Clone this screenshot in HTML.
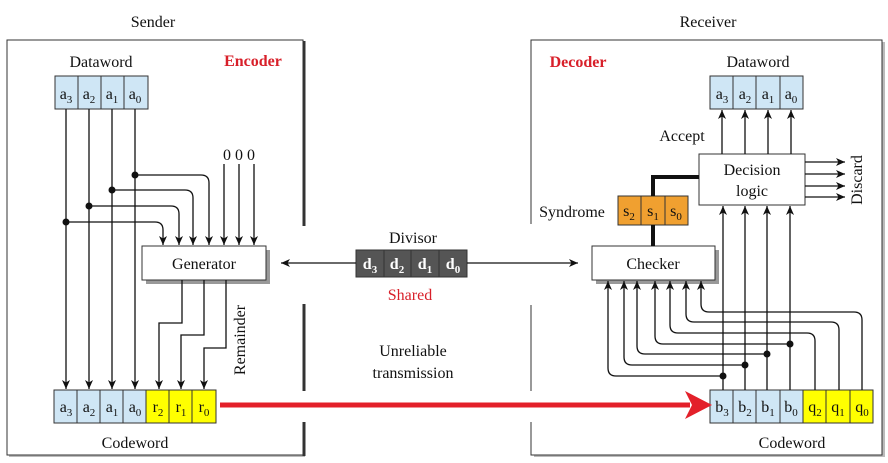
<!DOCTYPE html>
<html><head><meta charset="utf-8"><style>
html,body{margin:0;padding:0;background:#fff;}
svg{display:block;font-family:"Liberation Serif",serif;}
</style></head><body>
<svg width="888" height="463" viewBox="0 0 888 463" xmlns="http://www.w3.org/2000/svg">
<defs>
<marker id="ah" markerWidth="10" markerHeight="10" refX="9" refY="5" orient="auto" markerUnits="userSpaceOnUse">
<path d="M0,1 L9,5 L0,9 L2.5,5 Z" fill="#111"/></marker>
</defs>
<g font-size="16" text-anchor="middle" fill="#111">
<text x="153" y="27">Sender</text>
<text x="708" y="27">Receiver</text>
</g>
<!-- Left panel -->
<rect x="9" y="42" width="296" height="415" fill="#bbb"/>
<rect x="7" y="40" width="296" height="415" fill="#fff" stroke="#333" stroke-width="1"/>
<rect x="300" y="226" width="8" height="78" fill="#fff"/>
<rect x="300" y="391" width="8" height="31" fill="#fff"/>
<line x1="304" y1="41" x2="304" y2="226" stroke="#333" stroke-width="3"/>
<line x1="304" y1="304" x2="304" y2="391" stroke="#333" stroke-width="3"/>
<line x1="304" y1="422" x2="304" y2="456" stroke="#333" stroke-width="3"/>
<!-- Right panel -->
<rect x="534" y="42" width="351" height="415" fill="#bbb"/>
<rect x="531" y="40" width="351" height="415" fill="#fff" stroke="#333" stroke-width="1"/>
<rect x="527" y="224" width="8" height="81" fill="#fff"/>
<rect x="527" y="391" width="8" height="31" fill="#fff"/>

<g font-size="16" fill="#111" text-anchor="middle">
<text x="101" y="67">Dataword</text>
<text x="135" y="448">Codeword</text>
<text x="758" y="67">Dataword</text>
<text x="792" y="448">Codeword</text>
<text x="413" y="243">Divisor</text>
<text x="413" y="356">Unreliable</text>
<text x="413" y="378">transmission</text>
<text x="239" y="160">0 0 0</text>
<text x="682" y="141">Accept</text>
<text x="572" y="217">Syndrome</text>
</g>
<text x="253" y="66" font-size="16" font-weight="bold" fill="#d8202a" text-anchor="middle">Encoder</text>
<text x="578" y="67" font-size="16" font-weight="bold" fill="#d8202a" text-anchor="middle">Decoder</text>
<text x="410" y="300" font-size="16" fill="#d8202a" text-anchor="middle">Shared</text>
<text transform="translate(245,340) rotate(-90)" font-size="16" fill="#111" text-anchor="middle">Remainder</text>
<text transform="translate(862,180) rotate(-90)" font-size="16" fill="#111" text-anchor="middle">Discard</text>

<!-- Sender dataword -->
<g stroke="#333" stroke-width="1">
<rect x="55" y="76" width="93" height="33" fill="#cfe6f5"/>
<line x1="78" y1="76" x2="78" y2="109"/><line x1="101" y1="76" x2="101" y2="109"/><line x1="124" y1="76" x2="124" y2="109"/>
<!-- sender codeword -->
<rect x="54" y="390" width="92" height="33" fill="#cfe6f5"/>
<rect x="146" y="390" width="70" height="33" fill="#ffff00"/>
<line x1="77" y1="390" x2="77" y2="423"/><line x1="100" y1="390" x2="100" y2="423"/><line x1="123" y1="390" x2="123" y2="423"/><line x1="169" y1="390" x2="169" y2="423"/><line x1="192" y1="390" x2="192" y2="423"/>
<!-- receiver dataword -->
<rect x="710" y="76" width="93" height="33" fill="#cfe6f5"/>
<line x1="733" y1="76" x2="733" y2="109"/><line x1="756" y1="76" x2="756" y2="109"/><line x1="780" y1="76" x2="780" y2="109"/>
<!-- receiver codeword -->
<rect x="710" y="390" width="93" height="33" fill="#cfe6f5"/>
<rect x="803" y="390" width="70" height="33" fill="#ffff00"/>
<line x1="733" y1="390" x2="733" y2="423"/><line x1="756" y1="390" x2="756" y2="423"/><line x1="780" y1="390" x2="780" y2="423"/><line x1="826" y1="390" x2="826" y2="423"/><line x1="850" y1="390" x2="850" y2="423"/>
<!-- syndrome -->
<rect x="618" y="196" width="70" height="29" fill="#f0a030"/>
<line x1="641" y1="196" x2="641" y2="225"/><line x1="665" y1="196" x2="665" y2="225"/>
<!-- divisor -->
<rect x="356" y="250" width="111" height="27" fill="#555"/>
<line x1="384" y1="250" x2="384" y2="277"/><line x1="411" y1="250" x2="411" y2="277"/><line x1="439" y1="250" x2="439" y2="277"/>
</g>
<!-- Boxes with shadow -->
<rect x="146" y="250" width="124" height="34" fill="#999"/>
<rect x="142" y="246" width="124" height="34" fill="#fff" stroke="#333"/>
<text x="204" y="269" font-size="16" text-anchor="middle" fill="#111">Generator</text>
<rect x="596" y="250" width="123" height="34" fill="#999"/>
<rect x="592" y="246" width="123" height="34" fill="#fff" stroke="#333"/>
<text x="653" y="269" font-size="16" text-anchor="middle" fill="#111">Checker</text>
<rect x="699" y="154" width="106" height="51" fill="#fff" stroke="#333"/>
<text x="752" y="175" font-size="16" text-anchor="middle" fill="#111">Decision</text>
<text x="752" y="196" font-size="16" text-anchor="middle" fill="#111">logic</text>

<!-- cell labels -->
<g font-size="16" fill="#111" text-anchor="middle">
<text x="66" y="99">a<tspan font-size="11" dy="4">3</tspan></text>
<text x="89" y="99">a<tspan font-size="11" dy="4">2</tspan></text>
<text x="112" y="99">a<tspan font-size="11" dy="4">1</tspan></text>
<text x="135" y="99">a<tspan font-size="11" dy="4">0</tspan></text>
<text x="66" y="412">a<tspan font-size="11" dy="4">3</tspan></text>
<text x="89" y="412">a<tspan font-size="11" dy="4">2</tspan></text>
<text x="112" y="412">a<tspan font-size="11" dy="4">1</tspan></text>
<text x="135" y="412">a<tspan font-size="11" dy="4">0</tspan></text>
<text x="158" y="412">r<tspan font-size="11" dy="4">2</tspan></text>
<text x="181" y="412">r<tspan font-size="11" dy="4">1</tspan></text>
<text x="204" y="412">r<tspan font-size="11" dy="4">0</tspan></text>
<text x="722" y="99">a<tspan font-size="11" dy="4">3</tspan></text>
<text x="745" y="99">a<tspan font-size="11" dy="4">2</tspan></text>
<text x="768" y="99">a<tspan font-size="11" dy="4">1</tspan></text>
<text x="791" y="99">a<tspan font-size="11" dy="4">0</tspan></text>
<text x="722" y="412">b<tspan font-size="11" dy="4">3</tspan></text>
<text x="745" y="412">b<tspan font-size="11" dy="4">2</tspan></text>
<text x="768" y="412">b<tspan font-size="11" dy="4">1</tspan></text>
<text x="791" y="412">b<tspan font-size="11" dy="4">0</tspan></text>
<text x="815" y="412">q<tspan font-size="11" dy="4">2</tspan></text>
<text x="838" y="412">q<tspan font-size="11" dy="4">1</tspan></text>
<text x="862" y="412">q<tspan font-size="11" dy="4">0</tspan></text>
<text x="629" y="216">s<tspan font-size="11" dy="4">2</tspan></text>
<text x="653" y="216">s<tspan font-size="11" dy="4">1</tspan></text>
<text x="676" y="216">s<tspan font-size="11" dy="4">0</tspan></text>
</g>
<g font-size="16" fill="#fff" font-weight="bold" text-anchor="middle">
<text x="370" y="269">d<tspan font-size="11" dy="4">3</tspan></text>
<text x="397" y="269">d<tspan font-size="11" dy="4">2</tspan></text>
<text x="425" y="269">d<tspan font-size="11" dy="4">1</tspan></text>
<text x="453" y="269">d<tspan font-size="11" dy="4">0</tspan></text>
</g>

<g stroke="#111" stroke-width="1.3" fill="none">
<!-- sender verticals -->
<line x1="66" y1="109" x2="66" y2="389" marker-end="url(#ah)"/>
<line x1="89" y1="109" x2="89" y2="389" marker-end="url(#ah)"/>
<line x1="112" y1="109" x2="112" y2="389" marker-end="url(#ah)"/>
<line x1="135" y1="109" x2="135" y2="389" marker-end="url(#ah)"/>
<path d="M135,175 H201 Q209,175 209,183 V245" marker-end="url(#ah)"/>
<path d="M112,190 H185 Q193,190 193,198 V245" marker-end="url(#ah)"/>
<path d="M89,206 H171 Q179,206 179,214 V245" marker-end="url(#ah)"/>
<path d="M66,222 H155 Q163,222 163,230 V245" marker-end="url(#ah)"/>
<line x1="224" y1="164" x2="224" y2="245" marker-end="url(#ah)"/>
<line x1="239" y1="164" x2="239" y2="245" marker-end="url(#ah)"/>
<line x1="254" y1="164" x2="254" y2="245" marker-end="url(#ah)"/>
<path d="M182,280 V323 H159 V389" marker-end="url(#ah)"/>
<path d="M204,280 V335 H181 V389" marker-end="url(#ah)"/>
<path d="M226,280 V348 H204 V389" marker-end="url(#ah)"/>
<!-- divisor arrows -->
<line x1="356" y1="263" x2="281" y2="263" marker-end="url(#ah)"/>
<line x1="467" y1="263" x2="578" y2="263" marker-end="url(#ah)"/>
<!-- receiver -->
<line x1="722" y1="154" x2="722" y2="110" marker-end="url(#ah)"/>
<line x1="745" y1="154" x2="745" y2="110" marker-end="url(#ah)"/>
<line x1="768" y1="154" x2="768" y2="110" marker-end="url(#ah)"/>
<line x1="791" y1="154" x2="791" y2="110" marker-end="url(#ah)"/>
<line x1="805" y1="162" x2="845" y2="162" marker-end="url(#ah)"/>
<line x1="805" y1="174" x2="845" y2="174" marker-end="url(#ah)"/>
<line x1="805" y1="186" x2="845" y2="186" marker-end="url(#ah)"/>
<line x1="805" y1="197" x2="845" y2="197" marker-end="url(#ah)"/>
<line x1="723" y1="390" x2="723" y2="206" marker-end="url(#ah)"/>
<line x1="745" y1="390" x2="745" y2="206" marker-end="url(#ah)"/>
<line x1="767" y1="390" x2="767" y2="206" marker-end="url(#ah)"/>
<line x1="790" y1="390" x2="790" y2="206" marker-end="url(#ah)"/>
<path d="M723,376 H616 Q608,376 608,368 V281" marker-end="url(#ah)"/>
<path d="M745,365 H632 Q624,365 624,357 V281" marker-end="url(#ah)"/>
<path d="M767,354 H645 Q637,354 637,346 V281" marker-end="url(#ah)"/>
<path d="M790,344 H663 Q655,344 655,336 V281" marker-end="url(#ah)"/>
<path d="M815,390 V341 Q815,333 807,333 H678 Q670,333 670,325 V281" marker-end="url(#ah)"/>
<path d="M839,390 V330 Q839,322 831,322 H694 Q686,322 686,314 V281" marker-end="url(#ah)"/>
<path d="M862,390 V320 Q862,312 854,312 H709 Q701,312 701,304 V281" marker-end="url(#ah)"/>
</g>
<g fill="#111">
<circle cx="135" cy="175" r="3.5"/><circle cx="112" cy="190" r="3.5"/><circle cx="89" cy="206" r="3.5"/><circle cx="66" cy="222" r="3.5"/>
<circle cx="723" cy="376" r="3.5"/><circle cx="745" cy="365" r="3.5"/><circle cx="767" cy="354" r="3.5"/><circle cx="790" cy="344" r="3.5"/>
</g>
<!-- thick syndrome lines -->
<path d="M653,196 V177 H699" stroke="#111" stroke-width="4" fill="none"/>
<line x1="653" y1="225" x2="653" y2="246" stroke="#111" stroke-width="4"/>
<!-- red arrow -->
<line x1="220" y1="405" x2="690" y2="405" stroke="#e3202a" stroke-width="5"/>
<path d="M685,391 L712,405 L685,419 L692,405 Z" fill="#e3202a"/>
</svg>
</body></html>
